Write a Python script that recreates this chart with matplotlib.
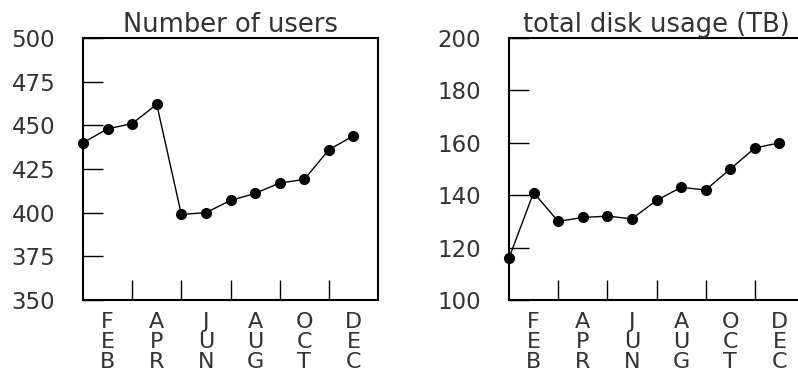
import matplotlib.pyplot as plt

months = list(range(1, 13))
month_labels = ['FEB', 'APR', 'JUN', 'AUG', 'OCT', 'DEC']
label_months = [2, 4, 6, 8, 10, 12]
tick_months = [3, 5, 7, 9, 11]

users = [440, 448, 451, 462, 399, 400, 407, 411, 417, 419, 436, 444]
disk_tb = [116, 141, 130, 131.5, 132, 131, 138, 143, 142, 150, 158, 160]

plt.rcParams['font.family'] = ['DejaVu Sans']

fig = plt.figure(figsize=(7.98, 3.73), dpi=100)

W, H = 798.0, 373.0
ax1 = fig.add_axes([83 / W, 73 / H, 295 / W, 262 / H])
ax2 = fig.add_axes([509 / W, 73 / H, 295 / W, 262 / H])


def style_panel(ax, title, yticks):
    ax.set_xlim(1, 13)
    ax.set_ylim(yticks[0], yticks[-1])
    ax.set_yticks(yticks)
    ax.set_yticklabels([str(v) for v in yticks], fontsize=16.5, color='#333333')
    ax.set_xticks(tick_months)
    ax.set_xticklabels([''] * len(tick_months))
    ax.set_xticks(label_months, minor=True)
    ax.set_xticklabels(['\n'.join(m) for m in month_labels], minor=True,
                       fontsize=16, linespacing=0.98, color='#333333')
    ax.tick_params(axis='x', which='major', direction='in', length=14.4, width=1.0)
    ax.tick_params(axis='x', which='minor', length=0, pad=9)
    ax.tick_params(axis='y', direction='in', length=14.4, width=1.0, pad=20)
    for s in ax.spines.values():
        s.set_linewidth(1.5)
    ax.set_title(title, fontsize=18.5, pad=3, color='#333333')


ax1.plot(months, users, color='black', lw=1.0, marker='o', markersize=7, clip_on=False)
style_panel(ax1, 'Number of users', [350, 375, 400, 425, 450, 475, 500])

ax2.plot(months, disk_tb, color='black', lw=1.0, marker='o', markersize=7, clip_on=False)
style_panel(ax2, 'total disk usage (TB)', [100, 120, 140, 160, 180, 200])

fig.savefig('out.png', dpi=100)
